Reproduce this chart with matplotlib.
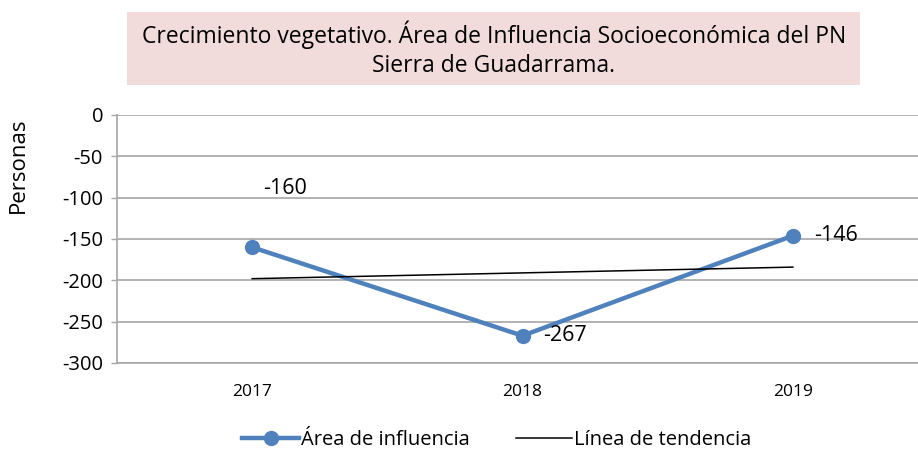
import matplotlib
matplotlib.use("Agg")
import matplotlib.pyplot as plt
import numpy as np
from matplotlib.patches import Rectangle

years = ["2017", "2018", "2019"]
area_influencia = [-160, -267, -146]
yticks = [0, -50, -100, -150, -200, -250, -300]

plt.rcParams["font.family"] = ["Open Sans", "DejaVu Sans"]

BLUE = "#4F81BD"
GRID = "#A6A6A6"

fig = plt.figure(figsize=(9.18, 4.53), dpi=100)
ax = fig.add_axes([117 / 918, 90 / 453, 811 / 918, 248 / 453])

x = np.arange(len(years))
# linear trend line through the series (the spreadsheet "línea de tendencia")
coef = np.polyfit(x, area_influencia, 1)
trend = np.polyval(coef, x)

ax.plot(x, area_influencia, color=BLUE, lw=3.2, marker="o", ms=10,
        label="Área de influencia", zorder=3)
ax.plot(x, trend, color="black", lw=1.1, label="Línea de tendencia", zorder=4)

ax.set_xlim(-0.5, 2.5)
ax.set_ylim(-300, 0)
ax.set_yticks(yticks)
ax.set_yticklabels([str(v) for v in yticks], fontsize=14.5)
ax.set_xticks(x)
ax.set_xticklabels(years, fontsize=12.5)
ax.tick_params(axis="x", length=0, pad=15)
ax.tick_params(axis="y", length=4, color=GRID, width=1, pad=6)
ax.grid(axis="y", color=GRID, lw=1.2)
ax.set_axisbelow(True)
for s in ["top", "right"]:
    ax.spines[s].set_visible(False)
for s in ["left", "bottom"]:
    ax.spines[s].set_color(GRID)
    ax.spines[s].set_linewidth(1.2)
ax.set_ylabel("Personas", fontsize=16)
ax.yaxis.set_label_coords(-88 / 811, 1 - 50 / 248)

# data labels
ax.annotate(str(area_influencia[0]), (x[0], area_influencia[0]), xytext=(24, 42),
            textcoords="offset points", ha="center", va="center", fontsize=15.5)
ax.annotate(str(area_influencia[1]), (x[1], area_influencia[1]), xytext=(15, 0),
            textcoords="offset points", ha="left", va="center", fontsize=15.5)
ax.annotate(str(area_influencia[2]), (x[2], area_influencia[2]), xytext=(15, 0),
            textcoords="offset points", ha="left", va="center", fontsize=15.5)

# title box
fig.patches.append(Rectangle((127 / 918, 1 - 85 / 453), 733 / 918, 73 / 453,
                             transform=fig.transFigure, facecolor="#F2DCDB",
                             edgecolor="none", zorder=0))
fig.text(494 / 918, 1 - 49 / 453,
         "Crecimiento vegetativo. Área de Influencia Socioeconómica del PN\nSierra de Guadarrama.",
         ha="center", va="center", fontsize=16.5, linespacing=1.3)

fig.legend(loc="center", bbox_to_anchor=(497 / 918, 1 - 440 / 453), ncol=2,
           frameon=False, fontsize=14.5, handlelength=2.8, columnspacing=2.3,
           handletextpad=0.1)

fig.savefig("out.png", dpi=100)
